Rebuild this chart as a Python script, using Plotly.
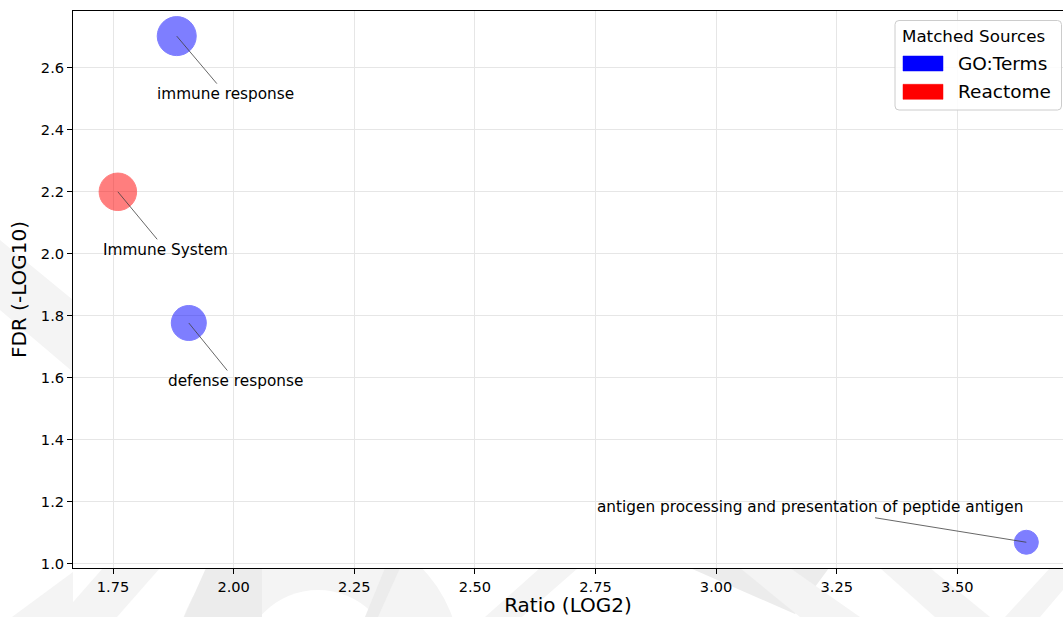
import plotly.graph_objects as go

# ---------------- data ----------------
terms = ["immune response", "Immune System", "defense response",
         "antigen processing and presentation of peptide antigen"]
sources = ["GO:Terms", "Reactome", "GO:Terms", "GO:Terms"]
ratio_log2 = [1.882, 1.760, 1.907, 3.643]
fdr_log10 = [2.702, 2.200, 1.777, 1.070]
bubble_size = [40, 38.5, 36, 25]

legend_sources = ["GO:Terms", "Reactome"]
x_ticks = [1.75, 2.00, 2.25, 2.50, 2.75, 3.00, 3.25, 3.50]
y_ticks = [1.0, 1.2, 1.4, 1.6, 1.8, 2.0, 2.2, 2.4, 2.6]

# ---------------- styles ----------------
source_colors = {"GO:Terms": "#0000ff", "Reactome": "#ff0000"}
label_offsets = [(49, 58), (48, 58), (47, 58), (-216, -35)]  # px offsets of label centres
FONT = "DejaVu Sans"
W, H = 1063, 617
L, R, T, B = 73, 1063, 11, 568


def px(xp):
    return (xp - L) / (R - L)


def py(yp):
    return (B - yp) / (B - T)


fig = go.Figure()

for src in legend_sources:
    idx = [i for i, s in enumerate(sources) if s == src]
    fig.add_trace(go.Scatter(
        x=[ratio_log2[i] for i in idx],
        y=[fdr_log10[i] for i in idx],
        mode="markers",
        name=src,
        showlegend=False,
        marker=dict(size=[bubble_size[i] - 1 for i in idx],
                    color=source_colors[src], opacity=0.5,
                    line=dict(color=source_colors[src], width=1)),
        hovertext=[terms[i] for i in idx],
    ))

annotations = []
for t, xv, yv, (ox, oy) in zip(terms, ratio_log2, fdr_log10, label_offsets):
    annotations.append(dict(
        x=xv, y=yv, xref="x", yref="y", text=t,
        showarrow=True, arrowhead=0, arrowwidth=0.8, arrowcolor="#404040",
        ax=ox, ay=oy, standoff=0,
        font=dict(family=FONT, size=15.3, color="#000000"),
    ))

shapes = []

# faint background watermark (behind axes)
wm_light = "#f4f4f4"
wm_dark = "#ececec"


def poly(pts, color):
    d = "M " + " L ".join(f"{px(a):.5f},{py(b):.5f}" for a, b in pts) + " Z"
    return dict(type="path", xref="paper", yref="paper", path=d,
                fillcolor=color, line=dict(width=0), layer="below")


def circ(cx, cy, r, color):
    return dict(type="circle", xref="paper", yref="paper",
                x0=px(cx - r), x1=px(cx + r), y0=py(cy + r), y1=py(cy - r),
                fillcolor=color, line=dict(width=0), layer="below")


shapes += [
    poly([(0, 240), (0, 310), (73, 372), (73, 300)], wm_light),
    poly([(12, 617), (73, 572), (73, 617)], wm_light),
    poly([(60, 617), (103, 568), (160, 568), (117, 617)], wm_light),
    circ(318, 666, 143, wm_light),
    circ(318, 666, 76, "#ffffff"),
    poly([(184, 617), (206, 568), (262, 568), (262, 617)], wm_dark),
    poly([(365, 617), (385, 568), (400, 568), (378, 617)], wm_dark),
    poly([(485, 617), (540, 568), (578, 568), (522, 617)], wm_light),
    poly([(690, 568), (795, 614), (829, 568)], wm_dark),
    poly([(740, 568), (800, 617), (860, 617), (790, 568)], wm_light),
    poly([(880, 568), (930, 568), (990, 617), (935, 617)], wm_light),
    poly([(1005, 617), (1050, 568), (1063, 568), (1063, 590), (1040, 617)], wm_light),
    # plot area background covering the watermark
    dict(type="rect", xref="paper", yref="paper", x0=0, x1=1, y0=0, y1=1,
         fillcolor="#ffffff", line=dict(width=0), layer="below"),
]

# ---------------- manual legend (matplotlib style) ----------------
bx0, bx1, by0, by1, rr = 895, 1061.5, 20.5, 110, 4
frame = (f"M {px(bx0 + rr)},{py(by0)} L {px(bx1 - rr)},{py(by0)} "
         f"Q {px(bx1)},{py(by0)} {px(bx1)},{py(by0 + rr)} "
         f"L {px(bx1)},{py(by1 - rr)} Q {px(bx1)},{py(by1)} {px(bx1 - rr)},{py(by1)} "
         f"L {px(bx0 + rr)},{py(by1)} Q {px(bx0)},{py(by1)} {px(bx0)},{py(by1 - rr)} "
         f"L {px(bx0)},{py(by0 + rr)} Q {px(bx0)},{py(by0)} {px(bx0 + rr)},{py(by0)} Z")
shapes.append(dict(type="path", xref="paper", yref="paper", path=frame,
                   fillcolor="rgba(255,255,255,0.85)",
                   line=dict(color="#cccccc", width=1), layer="above"))

patch_rows = [(56, 71, 63.5), (84.3, 99.3, 91.5)]
for src, (y0, y1, yc) in zip(legend_sources, patch_rows):
    shapes.append(dict(type="rect", xref="paper", yref="paper",
                       x0=px(903), x1=px(943), y0=py(y1), y1=py(y0),
                       fillcolor=source_colors[src],
                       line=dict(color=source_colors[src], width=0.5),
                       layer="above"))
    annotations.append(dict(x=px(955.5), y=py(yc), xref="paper", yref="paper",
                            text=src, showarrow=False, xanchor="left",
                            yanchor="middle",
                            font=dict(family=FONT, size=18.5, color="#000000")))

annotations.append(dict(x=px(899.5), y=py(36), xref="paper", yref="paper",
                        text="Matched Sources", showarrow=False, xanchor="left",
                        yanchor="middle",
                        font=dict(family=FONT, size=16.7, color="#000000")))

axis_common = dict(
    showgrid=True, gridcolor="#e6e6e6", gridwidth=1,
    zeroline=False, showline=True, linecolor="#000000", linewidth=1,
    ticks="outside", ticklen=5, tickwidth=1, tickcolor="#000000",
    tickfont=dict(family=FONT, size=14.6, color="#000000"),
)

fig.update_layout(
    width=W, height=H,
    margin=dict(l=L, r=W - R, t=T, b=H - B),
    paper_bgcolor="#ffffff", plot_bgcolor="#ffffff",
    showlegend=False,
    xaxis=dict(range=[1.667, 3.719], tickvals=x_ticks,
               ticktext=[f"{v:.2f}" for v in x_ticks], mirror=True,
               title=dict(text="Ratio (LOG2)", standoff=6,
                          font=dict(family=FONT, size=20, color="#000000")),
               **axis_common),
    yaxis=dict(range=[0.987, 2.783], tickvals=y_ticks,
               ticktext=[f"{v:.1f}" for v in y_ticks],
               title=dict(text="FDR (-LOG10)", standoff=8,
                          font=dict(family=FONT, size=20, color="#000000")),
               **axis_common),
    shapes=shapes,
    annotations=annotations,
)

fig.write_html("out.html", config={"displayModeBar": False},
               post_script="document.body.style.margin='0';document.body.style.overflow='hidden';")
